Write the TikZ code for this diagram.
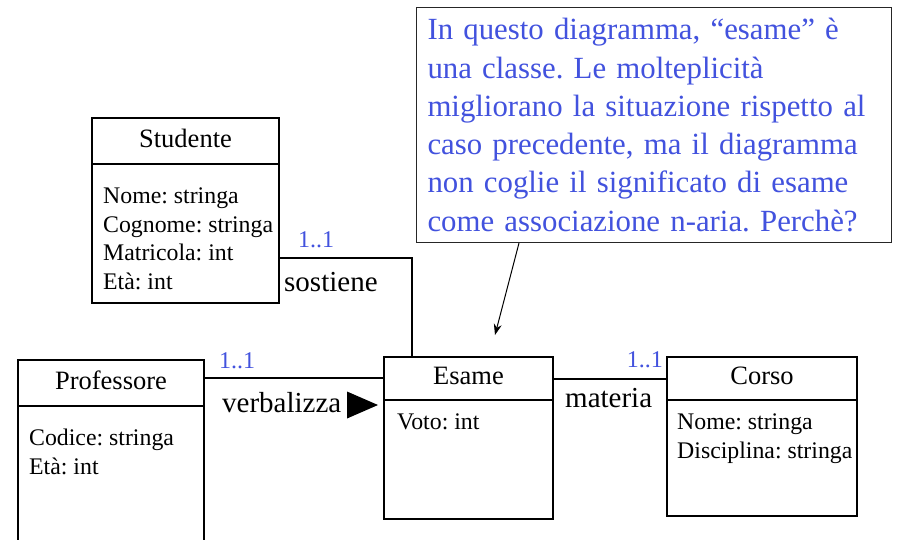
\documentclass[tikz,border=0pt]{standalone}
\usepackage{fontspec}
\setmainfont{Liberation Serif}
\usepackage{xcolor}
\usetikzlibrary{positioning,arrows.meta}
\definecolor{noteblue}{RGB}{66,82,222}
\frenchspacing

\begin{document}
\begin{tikzpicture}[x=1pt, y=-1pt,
  classhead/.style={draw, line width=2pt, inner sep=0pt, outer sep=0pt, text depth=6pt,
                    font=\fontsize{26.5}{31}\selectfont},
  classbody/.style={draw, line width=2pt, inner sep=0pt, outer sep=0pt},
  attr/.style={inner sep=0pt, align=left, font=\fontsize{23.8}{28.5}\selectfont},
  mult/.style={inner sep=0pt, text=noteblue, font=\fontsize{24}{28}\selectfont},
  assocname/.style={inner sep=0pt, font=\fontsize{29}{34}\selectfont},
  assoc/.style={line width=2pt},
  pointer/.style={line width=1pt, -{Stealth[length=11pt, width=8pt]}}]

\useasboundingbox[fill=white] (0,0) rectangle (899,539);

\node[classhead, minimum width=187pt, minimum height=46pt, anchor=north west] (studhead) at (92,118) {Studente};
\node[classbody, minimum width=187pt, minimum height=139pt, below=0pt of studhead] (studbody) {};
\node[attr, below right=24pt and 11pt of studbody.north west] (studattr)
  {Nome: stringa\\Cognome: stringa\\Matricola: int\\Età: int};

\node[classhead, minimum width=186pt, minimum height=46pt, anchor=north west] (profhead) at (18,360) {Professore};
\node[classbody, minimum width=186pt, minimum height=140pt, below=0pt of profhead] (profbody) {};
\node[attr, below right=23pt and 11pt of profbody.north west] (profattr)
  {Codice: stringa\\Età: int};

\node[classhead, minimum width=169pt, minimum height=43pt, anchor=north west] (esamehead) at (384,357) {Esame};
\node[classbody, minimum width=169pt, minimum height=119pt, below=0pt of esamehead] (esamebody) {};
\node[attr, below right=14pt and 13pt of esamebody.north west] (esameattr) {Voto: int};

\node[classhead, minimum width=190pt, minimum height=43pt, anchor=north west] (corsohead) at (667,357) {Corso};
\node[classbody, minimum width=190pt, minimum height=116pt, below=0pt of corsohead] (corsobody) {};
\node[attr, below right=14pt and 10pt of corsobody.north west] (corsoattr)
  {Nome: stringa\\Disciplina: stringa};

\draw[assoc] ([yshift=-24.5pt]studbody.east) coordinate (sost) -| ([xshift=28pt]esamehead.north west);
\node[mult, above right=10pt and 19pt of sost] (sostmult) {1..1};
\node[assocname, below right=14pt and 5pt of sost] (sostname) {sostiene};

\draw[assoc] ([yshift=5pt]profhead.east) coordinate (verb) -- (verb -| esamehead.west);
\node[mult, above right=9pt and 15pt of verb] (verbmult) {1..1};
\node[assocname, below right=14pt and 18pt of verb] (verbname) {verbalizza};
\fill ([xshift=174pt, yshift=-27pt]verb) -- ++(-31pt,13.5pt) -- ++(0,-27pt) -- cycle;

\draw[assoc] (esamehead.east) -- (corsohead.west);
\node[mult, above left=10.5pt and 4pt of corsohead.west] (matmult) {1..1};
\node[assocname, below right=10pt and 12pt of esamehead.east] (matname) {materia};

\node[draw=black!85, line width=1pt, minimum width=475pt, minimum height=235pt,
      text width=453pt, align=left, inner sep=0pt, text=noteblue,
      font=\fontsize{30.8}{38.3}\selectfont, anchor=north west] (note) at (416,7)
  {In questo diagramma, “esame” è\\una classe. Le molteplicità\\migliorano la situazione rispetto al\\caso precedente, ma il diagramma\\non coglie il significato di esame\\come associazione n-aria. Perchè?};
\coordinate (notetip) at (495,335);
\draw[pointer] ([xshift=103pt]note.south west) -- (notetip);
\end{tikzpicture}
\end{document}
